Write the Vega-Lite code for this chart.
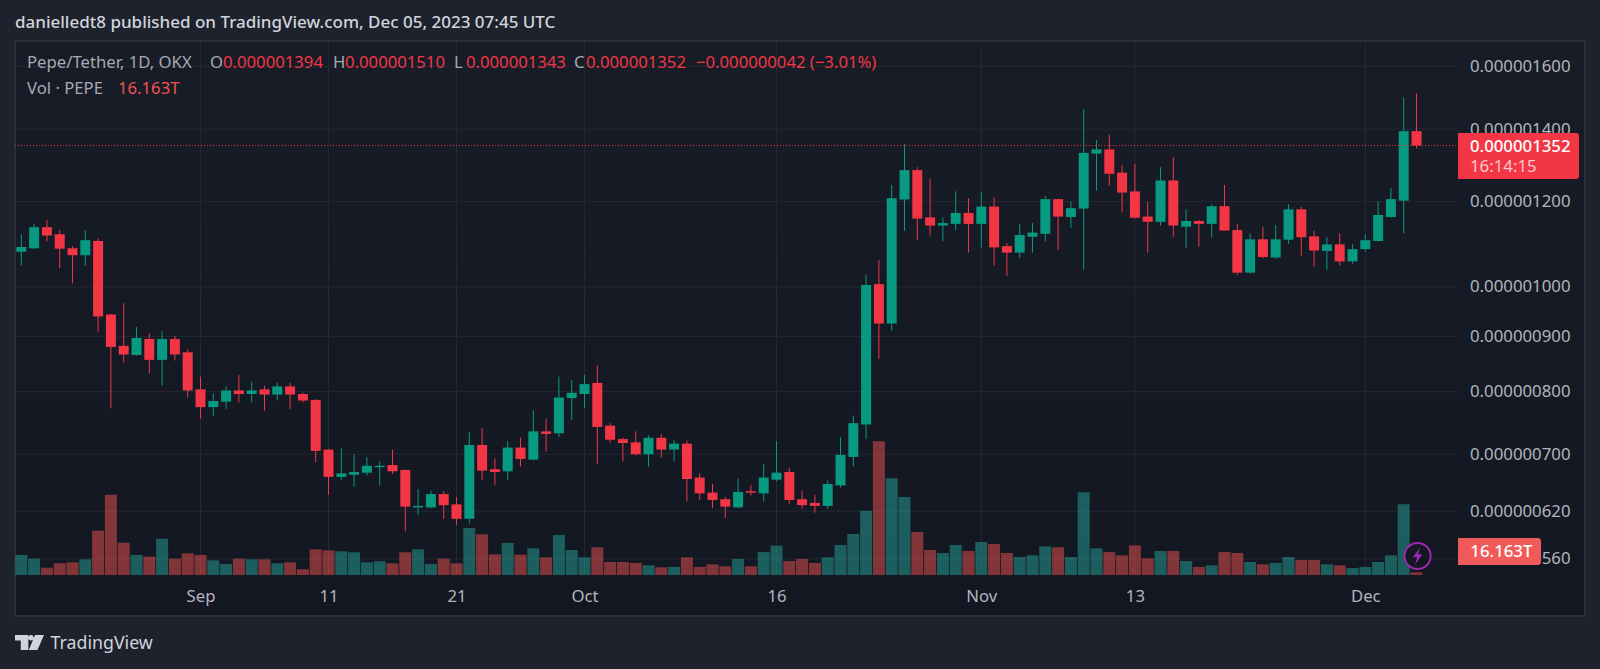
{
"$schema":"https://vega.github.io/schema/vega-lite/v6.json",
"width":1570,"height":575,
"autosize":"none",
"padding":{"left":15,"top":41,"right":15,"bottom":53},
"background":"#1e222d",
"view":{"fill":{"gradient":"linear","x1":0,"y1":0,"x2":0,"y2":1,"stops":[{"offset":0,"color":"#181c27"},{"offset":1,"color":"#131722"}]},"stroke":"#2a2e39","strokeWidth":2},
"title":{"text":"danielledt8 published on TradingView.com, Dec 05, 2023 07:45 UTC","anchor":"start","frame":"group","offset":9,"font":"Noto Sans","fontSize":17,"fontWeight":500,"color":"#d1d4dc"},
"datasets":{
"candles":[
{"date":"2023-08-18","open":0.000001078,"high":0.000001119,"low":0.000001047,"close":0.000001089,"volume":120,"dir":"up"},
{"date":"2023-08-19","open":0.000001086,"high":0.000001145,"low":0.000001084,"close":0.000001136,"volume":98,"dir":"up"},
{"date":"2023-08-20","open":0.000001136,"high":0.000001154,"low":0.000001102,"close":0.000001116,"volume":44,"dir":"down"},
{"date":"2023-08-21","open":0.000001119,"high":0.000001129,"low":0.000001041,"close":0.000001085,"volume":70,"dir":"down"},
{"date":"2023-08-22","open":0.000001086,"high":0.000001091,"low":0.000001008,"close":0.00000107,"volume":76,"dir":"down"},
{"date":"2023-08-23","open":0.00000107,"high":0.000001129,"low":0.000001046,"close":0.000001105,"volume":94,"dir":"up"},
{"date":"2023-08-24","open":0.000001103,"high":0.000001109,"low":0.000000909,"close":0.000000939,"volume":266,"dir":"down"},
{"date":"2023-08-25","open":0.000000943,"high":0.000000944,"low":0.000000772,"close":0.00000088,"volume":482,"dir":"down"},
{"date":"2023-08-26","open":0.000000882,"high":0.000000966,"low":0.000000851,"close":0.000000866,"volume":194,"dir":"down"},
{"date":"2023-08-27","open":0.000000865,"high":0.000000918,"low":0.000000864,"close":0.000000897,"volume":120,"dir":"up"},
{"date":"2023-08-28","open":0.000000895,"high":0.000000906,"low":0.000000832,"close":0.000000856,"volume":110,"dir":"down"},
{"date":"2023-08-29","open":0.000000856,"high":0.00000091,"low":0.00000081,"close":0.000000895,"volume":218,"dir":"up"},
{"date":"2023-08-30","open":0.000000895,"high":0.000000901,"low":0.000000855,"close":0.000000866,"volume":98,"dir":"down"},
{"date":"2023-08-31","open":0.00000087,"high":0.000000876,"low":0.00000079,"close":0.000000802,"volume":130,"dir":"down"},
{"date":"2023-09-01","open":0.000000804,"high":0.000000826,"low":0.000000755,"close":0.000000774,"volume":120,"dir":"down"},
{"date":"2023-09-02","open":0.000000774,"high":0.000000797,"low":0.00000076,"close":0.000000784,"volume":88,"dir":"up"},
{"date":"2023-09-03","open":0.000000783,"high":0.000000809,"low":0.000000771,"close":0.000000802,"volume":66,"dir":"up"},
{"date":"2023-09-04","open":0.000000802,"high":0.000000829,"low":0.000000782,"close":0.000000796,"volume":98,"dir":"down"},
{"date":"2023-09-05","open":0.000000796,"high":0.000000817,"low":0.000000782,"close":0.000000802,"volume":94,"dir":"up"},
{"date":"2023-09-06","open":0.000000804,"high":0.00000081,"low":0.000000768,"close":0.000000795,"volume":94,"dir":"down"},
{"date":"2023-09-07","open":0.000000795,"high":0.000000815,"low":0.000000785,"close":0.000000809,"volume":70,"dir":"up"},
{"date":"2023-09-08","open":0.000000809,"high":0.000000815,"low":0.000000771,"close":0.000000795,"volume":76,"dir":"down"},
{"date":"2023-09-09","open":0.000000796,"high":0.000000798,"low":0.000000782,"close":0.000000785,"volume":34,"dir":"down"},
{"date":"2023-09-10","open":0.000000786,"high":0.000000787,"low":0.000000688,"close":0.000000705,"volume":154,"dir":"down"},
{"date":"2023-09-11","open":0.000000707,"high":0.000000708,"low":0.000000642,"close":0.000000667,"volume":148,"dir":"down"},
{"date":"2023-09-12","open":0.000000667,"high":0.000000709,"low":0.000000662,"close":0.000000672,"volume":142,"dir":"up"},
{"date":"2023-09-13","open":0.00000067,"high":0.0000007,"low":0.000000653,"close":0.000000674,"volume":136,"dir":"up"},
{"date":"2023-09-14","open":0.000000673,"high":0.000000696,"low":0.000000669,"close":0.000000683,"volume":76,"dir":"up"},
{"date":"2023-09-15","open":0.000000681,"high":0.000000689,"low":0.000000655,"close":0.000000683,"volume":82,"dir":"up"},
{"date":"2023-09-16","open":0.000000684,"high":0.000000707,"low":0.000000671,"close":0.000000675,"volume":70,"dir":"down"},
{"date":"2023-09-17","open":0.000000677,"high":0.000000677,"low":0.000000594,"close":0.000000626,"volume":136,"dir":"down"},
{"date":"2023-09-18","open":0.000000625,"high":0.00000065,"low":0.000000615,"close":0.000000627,"volume":154,"dir":"up"},
{"date":"2023-09-19","open":0.000000625,"high":0.000000648,"low":0.000000624,"close":0.000000643,"volume":66,"dir":"up"},
{"date":"2023-09-20","open":0.000000643,"high":0.000000647,"low":0.00000061,"close":0.000000628,"volume":98,"dir":"down"},
{"date":"2023-09-21","open":0.000000629,"high":0.000000639,"low":0.000000602,"close":0.00000061,"volume":70,"dir":"down"},
{"date":"2023-09-22","open":0.00000061,"high":0.000000734,"low":0.000000604,"close":0.000000714,"volume":282,"dir":"up"},
{"date":"2023-09-23","open":0.000000714,"high":0.00000074,"low":0.000000662,"close":0.000000676,"volume":244,"dir":"down"},
{"date":"2023-09-24","open":0.000000678,"high":0.000000694,"low":0.000000656,"close":0.000000674,"volume":124,"dir":"down"},
{"date":"2023-09-25","open":0.000000675,"high":0.00000072,"low":0.000000662,"close":0.00000071,"volume":192,"dir":"up"},
{"date":"2023-09-26","open":0.00000071,"high":0.000000725,"low":0.000000682,"close":0.000000693,"volume":122,"dir":"down"},
{"date":"2023-09-27","open":0.000000692,"high":0.000000769,"low":0.000000691,"close":0.000000735,"volume":160,"dir":"up"},
{"date":"2023-09-28","open":0.000000735,"high":0.000000755,"low":0.000000704,"close":0.000000731,"volume":106,"dir":"down"},
{"date":"2023-09-29","open":0.000000732,"high":0.000000826,"low":0.000000726,"close":0.00000079,"volume":240,"dir":"up"},
{"date":"2023-09-30","open":0.000000789,"high":0.00000082,"low":0.000000753,"close":0.000000798,"volume":150,"dir":"up"},
{"date":"2023-10-01","open":0.000000796,"high":0.000000829,"low":0.000000772,"close":0.000000813,"volume":106,"dir":"up"},
{"date":"2023-10-02","open":0.000000815,"high":0.000000846,"low":0.000000686,"close":0.000000742,"volume":166,"dir":"down"},
{"date":"2023-10-03","open":0.000000744,"high":0.000000748,"low":0.000000717,"close":0.000000722,"volume":78,"dir":"down"},
{"date":"2023-10-04","open":0.000000723,"high":0.000000725,"low":0.000000689,"close":0.000000717,"volume":78,"dir":"down"},
{"date":"2023-10-05","open":0.000000718,"high":0.000000735,"low":0.000000698,"close":0.0000007,"volume":72,"dir":"down"},
{"date":"2023-10-06","open":0.0000007,"high":0.000000729,"low":0.000000682,"close":0.000000725,"volume":58,"dir":"up"},
{"date":"2023-10-07","open":0.000000725,"high":0.000000731,"low":0.000000695,"close":0.000000707,"volume":46,"dir":"down"},
{"date":"2023-10-08","open":0.000000707,"high":0.000000721,"low":0.00000069,"close":0.000000716,"volume":48,"dir":"up"},
{"date":"2023-10-09","open":0.000000716,"high":0.000000721,"low":0.000000633,"close":0.000000664,"volume":106,"dir":"down"},
{"date":"2023-10-10","open":0.000000666,"high":0.000000672,"low":0.000000635,"close":0.000000644,"volume":48,"dir":"down"},
{"date":"2023-10-11","open":0.000000645,"high":0.000000657,"low":0.000000624,"close":0.000000635,"volume":64,"dir":"down"},
{"date":"2023-10-12","open":0.000000636,"high":0.000000639,"low":0.000000611,"close":0.000000626,"volume":52,"dir":"down"},
{"date":"2023-10-13","open":0.000000625,"high":0.000000665,"low":0.000000624,"close":0.000000646,"volume":96,"dir":"up"},
{"date":"2023-10-14","open":0.000000647,"high":0.000000656,"low":0.000000641,"close":0.000000645,"volume":52,"dir":"down"},
{"date":"2023-10-15","open":0.000000644,"high":0.000000686,"low":0.000000633,"close":0.000000666,"volume":138,"dir":"up"},
{"date":"2023-10-16","open":0.000000663,"high":0.00000072,"low":0.000000661,"close":0.000000673,"volume":176,"dir":"up"},
{"date":"2023-10-17","open":0.000000674,"high":0.00000068,"low":0.00000063,"close":0.000000635,"volume":84,"dir":"down"},
{"date":"2023-10-18","open":0.000000636,"high":0.000000647,"low":0.000000623,"close":0.000000628,"volume":96,"dir":"down"},
{"date":"2023-10-19","open":0.000000631,"high":0.000000642,"low":0.000000618,"close":0.000000627,"volume":72,"dir":"down"},
{"date":"2023-10-20","open":0.000000627,"high":0.000000662,"low":0.000000623,"close":0.000000657,"volume":106,"dir":"up"},
{"date":"2023-10-21","open":0.000000655,"high":0.000000726,"low":0.000000652,"close":0.000000699,"volume":180,"dir":"up"},
{"date":"2023-10-22","open":0.000000696,"high":0.00000076,"low":0.000000682,"close":0.000000748,"volume":246,"dir":"up"},
{"date":"2023-10-23","open":0.000000746,"high":0.000001026,"low":0.000000723,"close":0.000001004,"volume":386,"dir":"up"},
{"date":"2023-10-24","open":0.000001006,"high":0.000001059,"low":0.000000858,"close":0.000000925,"volume":802,"dir":"down"},
{"date":"2023-10-25","open":0.000000925,"high":0.000001243,"low":0.00000091,"close":0.000001208,"volume":580,"dir":"up"},
{"date":"2023-10-26","open":0.000001205,"high":0.000001356,"low":0.000001127,"close":0.000001283,"volume":468,"dir":"up"},
{"date":"2023-10-27","open":0.000001283,"high":0.000001291,"low":0.000001105,"close":0.000001157,"volume":258,"dir":"down"},
{"date":"2023-10-28","open":0.00000116,"high":0.000001259,"low":0.000001116,"close":0.00000114,"volume":150,"dir":"down"},
{"date":"2023-10-29","open":0.00000114,"high":0.00000116,"low":0.000001103,"close":0.000001146,"volume":132,"dir":"up"},
{"date":"2023-10-30","open":0.000001144,"high":0.000001226,"low":0.000001129,"close":0.000001171,"volume":180,"dir":"up"},
{"date":"2023-10-31","open":0.000001171,"high":0.000001208,"low":0.000001076,"close":0.000001144,"volume":144,"dir":"down"},
{"date":"2023-11-01","open":0.000001144,"high":0.000001224,"low":0.000001087,"close":0.000001187,"volume":198,"dir":"up"},
{"date":"2023-11-02","open":0.000001187,"high":0.00000121,"low":0.000001047,"close":0.000001088,"volume":186,"dir":"down"},
{"date":"2023-11-03","open":0.000001091,"high":0.000001098,"low":0.000001024,"close":0.000001076,"volume":132,"dir":"down"},
{"date":"2023-11-04","open":0.000001076,"high":0.000001144,"low":0.000001064,"close":0.000001117,"volume":108,"dir":"up"},
{"date":"2023-11-05","open":0.000001113,"high":0.000001146,"low":0.000001076,"close":0.000001123,"volume":118,"dir":"up"},
{"date":"2023-11-06","open":0.00000112,"high":0.000001214,"low":0.000001103,"close":0.000001206,"volume":172,"dir":"up"},
{"date":"2023-11-07","open":0.000001206,"high":0.000001207,"low":0.000001082,"close":0.000001162,"volume":166,"dir":"down"},
{"date":"2023-11-08","open":0.000001161,"high":0.0000012,"low":0.000001135,"close":0.000001183,"volume":108,"dir":"up"},
{"date":"2023-11-09","open":0.000001182,"high":0.000001462,"low":0.000001037,"close":0.000001331,"volume":496,"dir":"up"},
{"date":"2023-11-10","open":0.000001329,"high":0.000001368,"low":0.000001228,"close":0.000001341,"volume":160,"dir":"up"},
{"date":"2023-11-11","open":0.000001341,"high":0.000001383,"low":0.000001241,"close":0.000001273,"volume":138,"dir":"down"},
{"date":"2023-11-12","open":0.000001276,"high":0.000001297,"low":0.000001172,"close":0.000001223,"volume":118,"dir":"down"},
{"date":"2023-11-13","open":0.000001226,"high":0.0000013,"low":0.000001157,"close":0.000001159,"volume":178,"dir":"down"},
{"date":"2023-11-14","open":0.000001162,"high":0.000001199,"low":0.000001076,"close":0.000001149,"volume":100,"dir":"down"},
{"date":"2023-11-15","open":0.000001149,"high":0.000001291,"low":0.00000114,"close":0.000001255,"volume":144,"dir":"up"},
{"date":"2023-11-16","open":0.000001255,"high":0.000001319,"low":0.000001113,"close":0.00000114,"volume":144,"dir":"down"},
{"date":"2023-11-17","open":0.000001137,"high":0.00000118,"low":0.000001087,"close":0.000001151,"volume":84,"dir":"up"},
{"date":"2023-11-18","open":0.000001151,"high":0.000001153,"low":0.00000109,"close":0.000001144,"volume":48,"dir":"down"},
{"date":"2023-11-19","open":0.000001144,"high":0.000001193,"low":0.000001111,"close":0.000001188,"volume":58,"dir":"up"},
{"date":"2023-11-20","open":0.000001188,"high":0.000001243,"low":0.000001127,"close":0.000001128,"volume":138,"dir":"down"},
{"date":"2023-11-21","open":0.000001129,"high":0.000001144,"low":0.000001026,"close":0.000001031,"volume":132,"dir":"down"},
{"date":"2023-11-22","open":0.000001031,"high":0.000001121,"low":0.000001029,"close":0.000001107,"volume":78,"dir":"up"},
{"date":"2023-11-23","open":0.000001107,"high":0.000001137,"low":0.000001063,"close":0.000001066,"volume":64,"dir":"down"},
{"date":"2023-11-24","open":0.000001065,"high":0.000001141,"low":0.000001062,"close":0.000001107,"volume":72,"dir":"up"},
{"date":"2023-11-25","open":0.000001106,"high":0.000001193,"low":0.000001096,"close":0.00000118,"volume":108,"dir":"up"},
{"date":"2023-11-26","open":0.00000118,"high":0.000001187,"low":0.000001069,"close":0.000001112,"volume":90,"dir":"down"},
{"date":"2023-11-27","open":0.000001114,"high":0.000001127,"low":0.000001044,"close":0.000001081,"volume":90,"dir":"down"},
{"date":"2023-11-28","open":0.00000108,"high":0.000001112,"low":0.000001037,"close":0.000001095,"volume":64,"dir":"up"},
{"date":"2023-11-29","open":0.000001095,"high":0.000001121,"low":0.000001047,"close":0.000001056,"volume":58,"dir":"down"},
{"date":"2023-11-30","open":0.000001056,"high":0.000001095,"low":0.000001051,"close":0.000001084,"volume":42,"dir":"up"},
{"date":"2023-12-01","open":0.000001084,"high":0.000001119,"low":0.000001078,"close":0.000001105,"volume":48,"dir":"up"},
{"date":"2023-12-02","open":0.000001103,"high":0.0000012,"low":0.000001102,"close":0.000001166,"volume":78,"dir":"up"},
{"date":"2023-12-03","open":0.000001161,"high":0.000001235,"low":0.00000116,"close":0.000001206,"volume":118,"dir":"up"},
{"date":"2023-12-04","open":0.000001202,"high":0.000001497,"low":0.000001121,"close":0.000001394,"volume":424,"dir":"up"},
{"date":"2023-12-05","open":0.000001394,"high":0.00000151,"low":0.000001343,"close":0.000001352,"volume":16.163,"dir":"down"}
],
"hgrid":[
{"date":"2023-08-17T12:11:00Z","end":"2023-12-08T05:46:00Z","price":0.0000016},
{"date":"2023-08-17T12:11:00Z","end":"2023-12-08T05:46:00Z","price":0.0000014},
{"date":"2023-08-17T12:11:00Z","end":"2023-12-08T05:46:00Z","price":0.0000012},
{"date":"2023-08-17T12:11:00Z","end":"2023-12-08T05:46:00Z","price":0.000001},
{"date":"2023-08-17T12:11:00Z","end":"2023-12-08T05:46:00Z","price":0.0000009},
{"date":"2023-08-17T12:11:00Z","end":"2023-12-08T05:46:00Z","price":0.0000008},
{"date":"2023-08-17T12:11:00Z","end":"2023-12-08T05:46:00Z","price":0.0000007},
{"date":"2023-08-17T12:11:00Z","end":"2023-12-08T05:46:00Z","price":0.00000062},
{"date":"2023-08-17T12:11:00Z","end":"2023-12-08T05:46:00Z","price":0.00000056}
],
"vgrid":[
{"date":"2023-09-01","top":0.0000016896,"bottom":0.0000005411},
{"date":"2023-09-11","top":0.0000016896,"bottom":0.0000005411},
{"date":"2023-09-21","top":0.0000016896,"bottom":0.0000005411},
{"date":"2023-10-01","top":0.0000016896,"bottom":0.0000005411},
{"date":"2023-10-16","top":0.0000016896,"bottom":0.0000005411},
{"date":"2023-11-01","top":0.0000016896,"bottom":0.0000005411},
{"date":"2023-11-13","top":0.0000016896,"bottom":0.0000005411},
{"date":"2023-12-01","top":0.0000016896,"bottom":0.0000005411}
],
"lastPrice":[{"date":"2023-08-17T12:11:00Z","end":"2023-12-08T05:46:00Z","price":0.000001352}],
"headerMuted":[
{"date":"2023-08-18T10:40:00Z","price":0.0000016132,"text":"Pepe/Tether, 1D, OKX"},
{"date":"2023-09-01T17:49:00Z","price":0.0000016132,"text":"O"},
{"date":"2023-09-11T08:24:00Z","price":0.0000016132,"text":"H"},
{"date":"2023-09-20T19:15:00Z","price":0.0000016132,"text":"L"},
{"date":"2023-09-30T04:19:00Z","price":0.0000016132,"text":"C"},
{"date":"2023-08-18T10:40:00Z","price":0.0000015262,"text":"Vol · PEPE"}
],
"headerRed":[
{"date":"2023-09-02T18:11:00Z","price":0.0000016132,"text":"0.000001394"},
{"date":"2023-09-12T06:58:00Z","price":0.0000016132,"text":"0.000001510"},
{"date":"2023-09-21T17:46:00Z","price":0.0000016132,"text":"0.000001343"},
{"date":"2023-10-01T02:49:00Z","price":0.0000016132,"text":"0.000001352"},
{"date":"2023-10-09T17:04:00Z","price":0.0000016132,"text":"−0.000000042 (−3.01%)"}
],
"headerVol":[{"date":"2023-08-25T13:19:00Z","price":0.0000015262,"text":"16.163T"}],
"priceTag":[{"date":"2023-12-08T05:46:00Z","end":"2023-12-17T16:48:00Z","price":0.0000013887,"price2":0.000001259}],
"volTag":[{"date":"2023-12-08T05:46:00Z","end":"2023-12-14T17:31:00Z","price":0.0000005856,"price2":0.0000005528}],
"tagStrong":[
{"date":"2023-12-09T04:19:00Z","price":0.0000013478,"text":"0.000001352"},
{"date":"2023-12-09T05:00:00Z","price":0.0000005684,"text":"16.163T"}
],
"tagSoft":[{"date":"2023-12-09T04:19:00Z","price":0.0000012916,"text":"16:14:15"}],
"badge":[{"date":"2023-12-05T02:00:00Z","price":0.0000005635}],
"logo":[{"date":"2023-08-18T15:22:00Z","price":0.0000004686}]
},
"encoding":{
"x":{"field":"date","type":"temporal","title":"TradingView","scale":{"type":"utc","nice":false,"padding":0,"domain":["2023-08-17T12:11:00Z","2023-12-18T03:56:00Z"]},
"axis":{"values":["2023-09-01","2023-09-11","2023-09-21","2023-10-01","2023-10-16","2023-11-01","2023-11-13","2023-12-01"],"labelExpr":"utcdate(datum.value)==1?utcFormat(datum.value,'%b'):utcFormat(datum.value,'%-d')","grid":false,"domain":false,"ticks":false,"labelPadding":-28,"labelColor":"#b2b5be","labelFont":"Noto Sans","labelFontSize":16.7,"labelOverlap":false,"labelFlush":false,"labelBound":false,"titleAnchor":"start","titleAlign":"left","titleBaseline":"middle","titleX":35,"titleY":27,"titleFont":"Noto Sans","titleFontSize":17.8,"titleFontWeight":400,"titleColor":"#d1d4dc"}}
},
"layer":[
{"layer":[
{"data":{"name":"hgrid"},"mark":{"type":"rule","color":"#242832","strokeWidth":1},"encoding":{"x2":{"field":"end"},"y":{"field":"price","type":"quantitative","axis":null,"scale":{"type":"log","domain":[0.0000004958,0.0000016896],"nice":false,"zero":false}}}},
{"data":{"name":"vgrid"},"mark":{"type":"rule","color":"#242832","strokeWidth":1},"encoding":{"y":{"field":"top","type":"quantitative","axis":null,"scale":{"type":"log","domain":[0.0000004958,0.0000016896],"nice":false,"zero":false}},"y2":{"field":"bottom"}}}
]},
{"data":{"name":"candles"},"mark":{"type":"bar","width":12,"opacity":0.5},"encoding":{
"y":{"field":"volume","type":"quantitative","stack":null,"axis":null,"scale":{"domain":[-246,3204],"nice":false,"zero":false}},
"color":{"field":"dir","type":"nominal","legend":null,"scale":{"domain":["up","down"],"range":["#26a69a","#ef5350"]}}}},
{"layer":[
{"data":{"name":"candles"},"mark":{"type":"rule","strokeWidth":1},"encoding":{
"y":{"field":"low","type":"quantitative","stack":null,"scale":{"type":"log","domain":[0.0000004958,0.0000016896],"nice":false,"zero":false},
"axis":{"orient":"right","title":null,"values":[0.0000016,0.0000014,0.0000012,0.000001,0.0000009,0.0000008,0.0000007,0.00000062,0.00000056],"format":".9f","grid":false,"domain":false,"ticks":false,"labelAlign":"right","labelPadding":-15,"labelColor":"#b2b5be","labelFont":"Noto Sans","labelFontSize":16.8,"labelOverlap":false,"labelBound":false,"labelFlush":false}},
"y2":{"field":"high"},
"color":{"field":"dir","type":"nominal","legend":null,"scale":{"domain":["up","down"],"range":["#089981","#f23645"]}}}},
{"data":{"name":"candles"},"mark":{"type":"bar","width":10},"encoding":{
"y":{"field":"open","type":"quantitative","stack":null},
"y2":{"field":"close"},
"color":{"field":"dir","type":"nominal"}}},
{"data":{"name":"lastPrice"},"mark":{"type":"rule","color":"#f23645","strokeWidth":1,"strokeDash":[1,2]},"encoding":{"x2":{"field":"end"},"y":{"field":"price","type":"quantitative"}}},
{"data":{"name":"priceTag"},"mark":{"type":"rect","color":"#f23645","cornerRadiusTopRight":3,"cornerRadiusBottomRight":3},"encoding":{"x2":{"field":"end"},"y":{"field":"price","type":"quantitative"},"y2":{"field":"price2"}}},
{"data":{"name":"volTag"},"mark":{"type":"rect","color":"#f05a5a","cornerRadiusTopRight":3,"cornerRadiusBottomRight":3},"encoding":{"x2":{"field":"end"},"y":{"field":"price","type":"quantitative"},"y2":{"field":"price2"}}},
{"data":{"name":"headerMuted"},"mark":{"type":"text","align":"left","baseline":"middle","font":"Noto Sans","fontSize":16.7,"color":"#a6a9b3"},"encoding":{"y":{"field":"price","type":"quantitative"},"text":{"field":"text"}}},
{"data":{"name":"headerRed"},"mark":{"type":"text","align":"left","baseline":"middle","font":"Noto Sans","fontSize":16.7,"color":"#f23645"},"encoding":{"y":{"field":"price","type":"quantitative"},"text":{"field":"text"}}},
{"data":{"name":"headerVol"},"mark":{"type":"text","align":"left","baseline":"middle","font":"Noto Sans","fontSize":16.7,"color":"#ef5350"},"encoding":{"y":{"field":"price","type":"quantitative"},"text":{"field":"text"}}},
{"data":{"name":"tagStrong"},"mark":{"type":"text","align":"left","baseline":"middle","font":"Noto Sans","fontSize":16.8,"fontWeight":500,"color":"#ffffff"},"encoding":{"y":{"field":"price","type":"quantitative"},"text":{"field":"text"}}},
{"data":{"name":"tagSoft"},"mark":{"type":"text","align":"left","baseline":"middle","font":"Noto Sans","fontSize":16.8,"color":"#fcc7cc"},"encoding":{"y":{"field":"price","type":"quantitative"},"text":{"field":"text"}}},
{"data":{"name":"badge"},"mark":{"type":"point","shape":"circle","size":680,"filled":true,"fill":"#131722","fillOpacity":1,"stroke":"#9c27b0","strokeWidth":2,"opacity":1},"encoding":{"y":{"field":"price","type":"quantitative"}}},
{"data":{"name":"badge"},"mark":{"type":"point","shape":"M0.3,-1L-0.55,0.15L-0.05,0.15L-0.3,1L0.55,-0.2L0.05,-0.2Z","size":300,"filled":true,"color":"#9c27b0","opacity":1},"encoding":{"y":{"field":"price","type":"quantitative"}}},
{"data":{"name":"logo"},"mark":{"type":"point","shape":"M-1,-0.52L-0.08,-0.52L-0.08,0.52L-0.6,0.52L-0.6,-0.13L-1,-0.13ZM0.1,-0.52A0.19,0.19 0 1 1 0.1,-0.14A0.19,0.19 0 1 1 0.1,-0.52ZM0.38,-0.52L1,-0.52L0.55,0.52L-0.05,0.52Z","size":841,"filled":true,"color":"#d1d4dc","opacity":1},"encoding":{"y":{"field":"price","type":"quantitative"}}}
]}
],
"resolve":{"scale":{"y":"independent","color":"independent"}}
}
